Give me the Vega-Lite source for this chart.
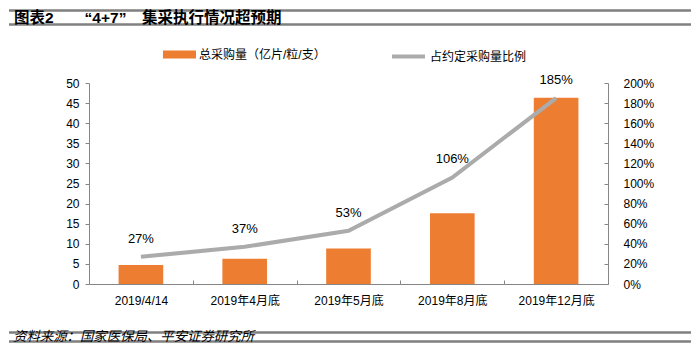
{
  "$schema": "https://vega.github.io/schema/vega-lite/v6.json",
  "padding": {"left": 8, "top": 5, "right": 0, "bottom": 0},
  "spacing": 8,
  "resolve": {"scale": {"fill": "independent", "stroke": "independent"}, "legend": {"fill": "independent", "stroke": "independent"}},
  "config": {"view": {"stroke": null}},
  "vconcat": [
    {
      "width": 519, "height": 25,
      "data": {"values": [{"title": "图表2　　“4+7”　集采执行情况超预期"}]},
      "layer": [
        {"mark": {"type": "rule", "color": "#808080", "strokeWidth": 2},
         "encoding": {"x": {"datum": 0, "type": "quantitative", "scale": {"domain": [0, 1], "range": [-80, 602]}, "axis": null}, "x2": {"datum": 1}, "y": {"datum": 0, "type": "quantitative", "scale": {"domain": [0, 1]}, "axis": null}}},
        {"mark": {"type": "rule", "color": "#808080", "strokeWidth": 2},
         "encoding": {"x": {"datum": 0, "type": "quantitative"}, "x2": {"datum": 1}, "y": {"datum": 1, "type": "quantitative"}}},
        {"mark": {"type": "bar", "color": "#808080", "height": 2},
         "encoding": {"x": {"datum": 0, "type": "quantitative"}, "x2": {"datum": 1}, "y": {"datum": 0, "type": "quantitative"}}},
        {"mark": {"type": "bar", "color": "#808080", "height": 2},
         "encoding": {"x": {"datum": 0, "type": "quantitative"}, "x2": {"datum": 1}, "y": {"datum": 1, "type": "quantitative"}}},
        {"mark": {"type": "text", "align": "left", "baseline": "middle", "fontSize": 15.5, "fontWeight": "bold", "dx": 5, "font": "Liberation Sans, Noto Sans CJK SC", "color": "#000000"},
         "encoding": {"text": {"field": "title"}, "x": {"datum": 0, "type": "quantitative"}, "y": {"datum": 0.5, "type": "quantitative"}}}
      ]
    },
    {
      "width": 519,
      "height": 201,
      "data": {"values": [
        {"date": "2019/4/14", "volume": 4.7, "ratio": 0.27},
        {"date": "2019年4月底", "volume": 6.3, "ratio": 0.37},
        {"date": "2019年5月底", "volume": 8.8, "ratio": 0.53},
        {"date": "2019年8月底", "volume": 17.6, "ratio": 1.06},
        {"date": "2019年12月底", "volume": 46.3, "ratio": 1.85}
      ]},
      "encoding": {
        "x": {"field": "date", "type": "nominal", "sort": null, "scale": {"paddingInner": 0, "paddingOuter": 0},
              "axis": {"labelAngle": 0, "tickBand": "extent", "tickSize": -4, "labelPadding": 15, "minExtent": 35, "title": null, "grid": false,
                       "labelFont": "Liberation Sans, Noto Sans CJK SC", "labelFontSize": 12, "labelColor": "#000000", "domainColor": "#868686", "tickColor": "#868686"}}
      },
      "layer": [
        {
          "mark": {"type": "bar", "width": {"band": 0.43}},
          "encoding": {
            "y": {"field": "volume", "type": "quantitative", "scale": {"domain": [0, 50]},
                  "axis": {"orient": "left", "values": [0, 5, 10, 15, 20, 25, 30, 35, 40, 45, 50], "tickSize": 4, "labelPadding": 6, "minExtent": 80, "title": null, "grid": false,
                           "labelFont": "Liberation Sans", "labelFontSize": 12, "labelColor": "#000000", "domainColor": "#868686", "tickColor": "#868686"}},
            "fill": {"datum": "总采购量（亿片/粒/支）", "type": "nominal", "scale": {"range": ["#ED7D31"]},
                     "legend": {"orient": "none", "legendX": 74, "legendY": -45, "title": null, "padding": 0, "symbolType": "M-1,-0.24H1V0.24H-1Z", "symbolSize": 1089, "symbolStrokeWidth": 0, "labelOffset": 3,
                                "labelFont": "Liberation Sans, Noto Sans CJK SC", "labelFontSize": 12, "labelColor": "#000000"}}
          }
        },
        {
          "encoding": {
            "y": {"field": "ratio", "type": "quantitative", "scale": {"domain": [0, 2]},
                  "axis": {"orient": "right", "values": [0, 0.2, 0.4, 0.6, 0.8, 1, 1.2, 1.4, 1.6, 1.8, 2], "format": ".0%", "tickSize": -4, "labelPadding": 19, "title": null, "grid": false,
                           "labelFont": "Liberation Sans", "labelFontSize": 12, "labelColor": "#000000", "domainColor": "#868686", "tickColor": "#868686"}}
          },
          "layer": [
            {
              "mark": {"type": "line", "strokeWidth": 4},
              "encoding": {
                "stroke": {"datum": "占约定采购量比例", "type": "nominal", "scale": {"range": ["#ABABAB"]},
                           "legend": {"orient": "none", "legendX": 301, "legendY": -45, "title": null, "padding": 0, "symbolType": "stroke", "symbolSize": 1089, "symbolStrokeWidth": 4, "labelOffset": 3,
                                      "labelFont": "Liberation Sans, Noto Sans CJK SC", "labelFontSize": 12, "labelColor": "#000000"}}
              }
            },
            {
              "mark": {"type": "text", "dy": -18, "fontSize": 13, "color": "#000000", "font": "Liberation Sans"},
              "encoding": {"text": {"field": "ratio", "type": "quantitative", "format": ".0%"}}
            }
          ]
        }
      ],
      "resolve": {"scale": {"y": "independent"}}
    },
    {
      "width": 519, "height": 20,
      "data": {"values": [{"note": "资料来源：国家医保局、平安证券研究所"}]},
      "layer": [
        {"mark": {"type": "rule", "color": "#808080", "strokeWidth": 2},
         "encoding": {"x": {"datum": 0, "type": "quantitative", "scale": {"domain": [0, 1], "range": [-80, 602]}, "axis": null}, "x2": {"datum": 1}, "y": {"datum": 0, "type": "quantitative", "scale": {"domain": [0, 1]}, "axis": null}}},
        {"mark": {"type": "rule", "color": "#808080", "strokeWidth": 2},
         "encoding": {"x": {"datum": 0, "type": "quantitative"}, "x2": {"datum": 1}, "y": {"datum": 1, "type": "quantitative"}}},
        {"mark": {"type": "bar", "color": "#808080", "height": 2},
         "encoding": {"x": {"datum": 0, "type": "quantitative"}, "x2": {"datum": 1}, "y": {"datum": 0, "type": "quantitative"}}},
        {"mark": {"type": "bar", "color": "#808080", "height": 2},
         "encoding": {"x": {"datum": 0, "type": "quantitative"}, "x2": {"datum": 1}, "y": {"datum": 1, "type": "quantitative"}}},
        {"mark": {"type": "text", "align": "left", "baseline": "middle", "fontSize": 13.4, "fontStyle": "italic", "dx": 4, "font": "Noto Sans CJK SC", "color": "#000000"},
         "encoding": {"text": {"field": "note"}, "x": {"datum": 0, "type": "quantitative"}, "y": {"datum": 0.5, "type": "quantitative"}}}
      ]
    }
  ]
}
